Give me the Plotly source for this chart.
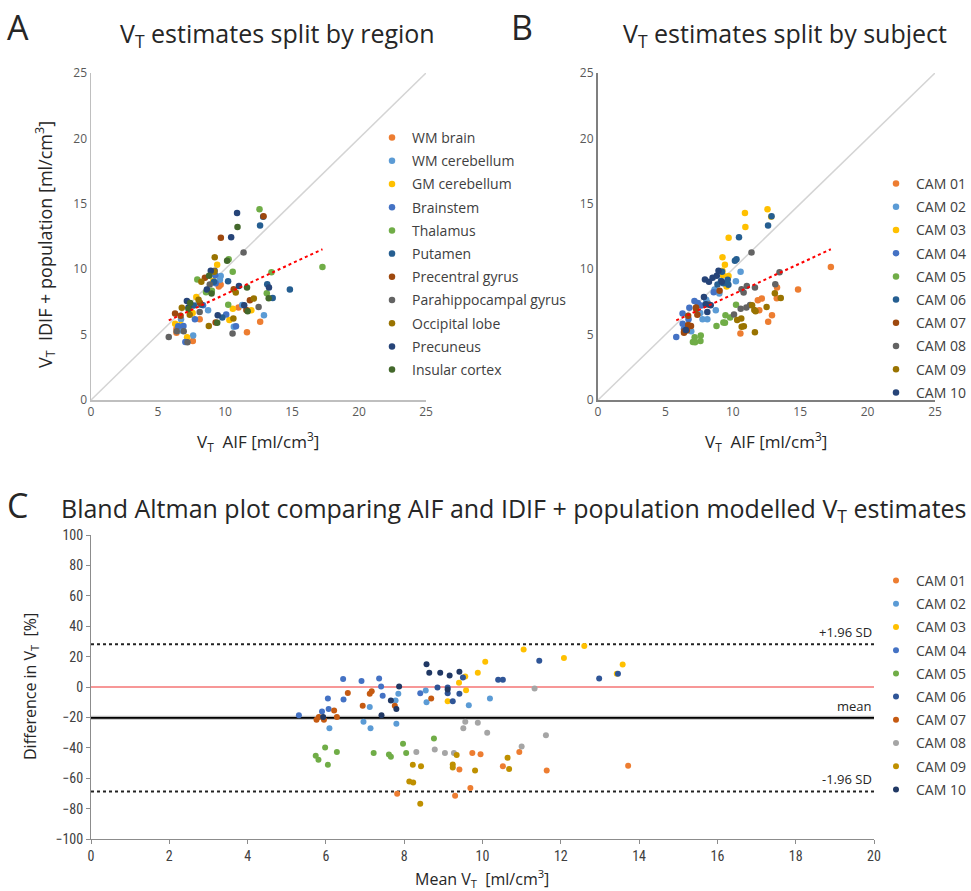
import numpy as np
import plotly.graph_objects as go

# ---------------- data ----------------
REGIONS = ["WM brain", "WM cerebellum", "GM cerebellum", "Brainstem", "Thalamus",
           "Putamen", "Precentral gyrus", "Parahippocampal gyrus", "Occipital lobe",
           "Precuneus", "Insular cortex"]
SUBJECTS = ["CAM 01", "CAM 02", "CAM 03", "CAM 04", "CAM 05",
            "CAM 06", "CAM 07", "CAM 08", "CAM 09", "CAM 10"]

# per subject: mean V_T [ml/cm3], difference [%], region index (into REGIONS)
CAM01_mean = [7.82, 9.41, 9.30, 9.69, 9.74, 9.95, 10.52, 10.94, 11.64, 13.72]
CAM01_diff = [-70.2, -54.3, -71.5, -66.4, -43.5, -44.2, -52.1, -42.8, -55.0, -51.8]
CAM01_reg = [7, 2, 0, 1, 6, 8, 10, 9, 5, 4]

CAM02_mean = [6.09, 6.96, 7.12, 7.14, 7.78, 7.80, 7.85, 8.55, 8.57, 9.65, 10.19]
CAM02_diff = [-27.2, -22.8, -13.1, -27.2, -8.9, -24.1, -4.5, -2.3, -10.0, -12.0, -7.6]
CAM02_reg = [7, 3, 2, 0, 6, 1, 8, 9, 10, 5, 4]

CAM03_mean = [9.11, 9.40, 9.56, 9.58, 9.88, 10.07, 11.05, 12.08, 12.60, 13.43, 13.58]
CAM03_diff = [-9.4, 2.8, 6.9, -2.1, 9.4, 16.6, 24.6, 19.0, 27.0, 8.7, 14.8]
CAM03_reg = [0, 3, 7, 1, 2, 8, 6, 10, 9, 5, 4]

CAM04_mean = [5.31, 5.90, 6.07, 6.05, 6.44, 6.45, 6.91, 7.36, 7.41, 7.45, 8.41]
CAM04_diff = [-18.6, -16.2, -14.4, -7.6, 5.2, -8.3, 3.9, 5.6, 0.3, -5.8, -4.1]
CAM04_reg = [7, 0, 3, 2, 6, 1, 8, 9, 10, 5, 4]

CAM05_mean = [5.98, 5.74, 5.81, 6.05, 6.28, 7.22, 7.61, 7.66, 7.97, 8.05, 8.76]
CAM05_diff = [-39.8, -45.3, -47.9, -51.2, -42.8, -43.5, -44.4, -45.9, -37.3, -43.5, -33.8]
CAM05_reg = [2, 3, 7, 0, 1, 8, 6, 10, 9, 5, 4]

CAM06_mean = [8.85, 9.11, 9.11, 9.24, 9.41, 9.50, 10.40, 10.52, 11.45, 12.98, 13.46]
CAM06_diff = [-0.3, -0.3, -4.1, -9.4, -4.5, 6.3, 4.7, 4.7, 17.3, 5.6, 8.7]
CAM06_reg = [7, 2, 3, 0, 1, 8, 10, 4, 9, 5, 6]

CAM07_mean = [5.76, 5.82, 5.95, 6.21, 6.28, 6.56, 6.94, 7.12, 7.17, 7.76, 8.69]
CAM07_diff = [-21.5, -19.7, -21.5, -15.5, -19.7, -3.9, -12.4, -4.5, -2.8, -12.4, -7.6]
CAM07_reg = [0, 7, 1, 2, 3, 6, 8, 10, 9, 5, 4]

CAM08_mean = [8.31, 8.78, 9.04, 9.27, 9.56, 9.51, 9.88, 10.12, 11.00, 11.33, 11.62]
CAM08_diff = [-42.8, -41.1, -43.5, -43.5, -22.8, -27.2, -23.5, -30.1, -39.1, -1.0, -31.8]
CAM08_reg = [3, 2, 0, 1, 6, 8, 9, 10, 5, 7, 4]

CAM09_mean = [8.22, 8.43, 8.13, 8.23, 8.41, 9.34, 9.24, 9.24, 9.81, 10.64, 10.68]
CAM09_diff = [-51.2, -52.1, -62.2, -62.9, -76.8, -44.8, -51.0, -53.0, -55.0, -46.6, -53.9]
CAM09_reg = [2, 8, 1, 3, 0, 9, 6, 10, 7, 4, 5]

CAM10_mean = [5.93, 7.42, 7.66, 7.80, 7.87, 8.57, 8.64, 8.92, 9.11, 9.16, 9.41]
CAM10_diff = [-19.7, -18.6, -8.9, -14.4, 0.3, 14.9, 9.4, 9.4, -1.6, 7.6, 10.0]
CAM10_reg = [0, 7, 1, 3, 2, 4, 8, 6, 5, 10, 9]

MEANS = [CAM01_mean, CAM02_mean, CAM03_mean, CAM04_mean, CAM05_mean,
         CAM06_mean, CAM07_mean, CAM08_mean, CAM09_mean, CAM10_mean]
DIFFS = [CAM01_diff, CAM02_diff, CAM03_diff, CAM04_diff, CAM05_diff,
         CAM06_diff, CAM07_diff, CAM08_diff, CAM09_diff, CAM10_diff]
REGS = [CAM01_reg, CAM02_reg, CAM03_reg, CAM04_reg, CAM05_reg,
        CAM06_reg, CAM07_reg, CAM08_reg, CAM09_reg, CAM10_reg]

REGION_COLORS = ["#ED7D31", "#5B9BD5", "#FFC000", "#4472C4", "#70AD47", "#255E91",
                 "#9E480E", "#636363", "#997300", "#264478", "#43682B"]
SUBJ_COLORS_B = ["#ED7D31", "#5B9BD5", "#FFC000", "#4472C4", "#70AD47", "#255E91",
                 "#9E480E", "#636363", "#997300", "#264478"]
SUBJ_COLORS_C = ["#ED7D31", "#5B9BD5", "#FFC000", "#4472C4", "#70AD47", "#2F5597",
                 "#C55A11", "#A5A5A5", "#BF9000", "#203864"]

# ---------------- derived values ----------------
aif = [[m * (1 - d / 200.0) for m, d in zip(ms, ds)] for ms, ds in zip(MEANS, DIFFS)]
idif = [[m * (1 + d / 200.0) for m, d in zip(ms, ds)] for ms, ds in zip(MEANS, DIFFS)]
all_aif = np.concatenate([np.array(a) for a in aif])
all_idif = np.concatenate([np.array(a) for a in idif])
all_diff = np.concatenate([np.array(a) for a in DIFFS])
slope, icpt = np.polyfit(all_aif, all_idif, 1)
tx = np.array([all_aif.min(), all_aif.max()])
bias = all_diff.mean()
sd = all_diff.std(ddof=1)
upper, lower = bias + 1.96 * sd, bias - 1.96 * sd

W, H = 971, 891
def px(x): return x / W
def py(y): return 1 - y / H

FONT = "'Open Sans', Lato, sans-serif"
NARROW = "'Liberation Sans Narrow', 'Roboto Condensed', 'Liberation Sans', sans-serif"

fig = go.Figure()

# ---------- Panel A ----------
fig.add_trace(go.Scatter(x=[0, 25], y=[0, 25], mode="lines", line=dict(color="#D4D4D4", width=1.5),
                         showlegend=False, hoverinfo="skip", xaxis="x", yaxis="y"))
for r, name in enumerate(REGIONS):
    xs, ys = [], []
    for s in range(len(SUBJECTS)):
        for k, rr in enumerate(REGS[s]):
            if rr == r:
                xs.append(aif[s][k]); ys.append(idif[s][k])
    fig.add_trace(go.Scatter(x=xs, y=ys, mode="markers", name=name, legend="legend",
                             legendgroup="A" + name,
                             marker=dict(color=REGION_COLORS[r], size=6.5, line=dict(width=0)),
                             xaxis="x", yaxis="y"))
fig.add_trace(go.Scatter(x=tx, y=slope * tx + icpt, mode="lines",
                         line=dict(color="#FF0000", width=2, dash="dot"),
                         showlegend=False, hoverinfo="skip", xaxis="x", yaxis="y"))

# ---------- Panel B ----------
fig.add_trace(go.Scatter(x=[0, 25], y=[0, 25], mode="lines", line=dict(color="#D4D4D4", width=1.5),
                         showlegend=False, hoverinfo="skip", xaxis="x2", yaxis="y2"))
for s, name in enumerate(SUBJECTS):
    fig.add_trace(go.Scatter(x=aif[s], y=idif[s], mode="markers", name=name, legend="legend2",
                             legendgroup="B" + name,
                             marker=dict(color=SUBJ_COLORS_B[s], size=6.5, line=dict(width=0)),
                             xaxis="x2", yaxis="y2"))
fig.add_trace(go.Scatter(x=tx, y=slope * tx + icpt, mode="lines",
                         line=dict(color="#FF0000", width=2, dash="dot"),
                         showlegend=False, hoverinfo="skip", xaxis="x2", yaxis="y2"))

# ---------- Panel C ----------
fig.add_trace(go.Scatter(x=[0, 20], y=[0, 0], mode="lines", line=dict(color="#F03030", width=1.2),
                         showlegend=False, hoverinfo="skip", xaxis="x3", yaxis="y3"))
fig.add_trace(go.Scatter(x=[0, 20], y=[bias, bias], mode="lines", line=dict(color="#BBBBBB", width=4),
                         showlegend=False, hoverinfo="skip", xaxis="x3", yaxis="y3"))
fig.add_trace(go.Scatter(x=[0, 20], y=[bias, bias], mode="lines", line=dict(color="#000000", width=1.8),
                         showlegend=False, hoverinfo="skip", xaxis="x3", yaxis="y3"))
for yv in (upper, lower):
    fig.add_trace(go.Scatter(x=[0, 20], y=[yv, yv], mode="lines",
                             line=dict(color="#222222", width=2, dash="dot"),
                             showlegend=False, hoverinfo="skip", xaxis="x3", yaxis="y3"))
for s, name in enumerate(SUBJECTS):
    fig.add_trace(go.Scatter(x=MEANS[s], y=DIFFS[s], mode="markers", name=name, legend="legend3",
                             legendgroup="C" + name,
                             marker=dict(color=SUBJ_COLORS_C[s], size=6, line=dict(width=0)),
                             xaxis="x3", yaxis="y3"))

tickA = dict(size=12, family=FONT, color="#595959")
axis_common = dict(showgrid=False, zeroline=False, showline=True, ticks="", fixedrange=True)
leg_common = dict(tracegroupgap=2, font=dict(size=14, family=FONT, color="#404040"),
                  bgcolor="rgba(0,0,0,0)", itemclick=False, itemdoubleclick=False)

fig.update_layout(
    width=W, height=H, margin=dict(l=0, r=0, t=0, b=0, autoexpand=False),
    paper_bgcolor="white", plot_bgcolor="white", showlegend=True,
    xaxis=dict(domain=[px(91), px(426)], range=[0, 25], dtick=5, anchor="y",
               linecolor="#BFBFBF", linewidth=1.5, tickfont=tickA, **axis_common),
    yaxis=dict(domain=[py(400), py(73)], range=[0, 25], dtick=5, anchor="x",
               linecolor="#BFBFBF", linewidth=1.5, tickfont=tickA, **axis_common),
    xaxis2=dict(domain=[px(598), px(935)], range=[0, 25], dtick=5, anchor="y2",
                linecolor="#7F7F7F", linewidth=2, tickfont=tickA, **axis_common),
    yaxis2=dict(domain=[py(400), py(73)], range=[0, 25], dtick=5, anchor="x2",
                linecolor="#7F7F7F", linewidth=2, tickfont=tickA, **axis_common),
    xaxis3=dict(domain=[px(91), px(874)], range=[0, 20], dtick=2, anchor="y3",
                showgrid=False, zeroline=False, showline=True, linecolor="#8C8C8C", linewidth=1,
                ticks="outside", ticklen=4, tickcolor="#8C8C8C", fixedrange=True,
                tickfont=dict(size=14, family=NARROW, color="#404040")),
    yaxis3=dict(domain=[py(839), py(535)], range=[-100, 100], dtick=20, anchor="x3",
                showgrid=False, zeroline=False, showline=True, linecolor="#8C8C8C", linewidth=1,
                ticks="outside", ticklen=4, tickcolor="#8C8C8C", fixedrange=True,
                tickfont=dict(size=14, family=NARROW, color="#404040")),
    legend=dict(x=px(372), xanchor="left", y=py(122), yanchor="top", **leg_common),
    legend2=dict(x=1, xanchor="right", y=py(168), yanchor="top", **leg_common),
    legend3=dict(x=1, xanchor="right", y=py(565), yanchor="top", **leg_common),
)

ann = []
def A(text, x, y, size, xanchor="center", yanchor="middle", angle=0, font=FONT, color="#262626"):
    ann.append(dict(text=text, x=px(x), y=py(y), xref="paper", yref="paper", showarrow=False,
                    xanchor=xanchor, yanchor=yanchor, textangle=angle,
                    font=dict(size=size, family=font, color=color)))

A("A", 5, 27, 34, xanchor="left")
A("B", 509, 27, 34, xanchor="left")
A("C", 5, 505, 34, xanchor="left")
A("V<sub>T</sub> estimates split by region", 277, 34, 25)
A("V<sub>T</sub> estimates split by subject", 785, 34, 25)
A("Bland Altman plot comparing AIF and IDIF + population modelled V<sub>T</sub> estimates", 514, 510, 25)
A("V<sub>T</sub>  AIF [ml/cm<sup>3</sup>]", 258, 442, 17)
A("V<sub>T</sub>  AIF [ml/cm<sup>3</sup>]", 766, 442, 17)
A("V<sub>T</sub>  IDIF + population [ml/cm<sup>3</sup>]", 45, 245, 18, angle=-90)
A("Mean V<sub>T</sub>  [ml/cm<sup>3</sup>]", 482, 878, 16)
A("Difference in V<sub>T</sub>  [%]", 30, 687, 16, angle=-90)
# Bland-Altman line labels (positioned on data)
for txt, yv in (("+1.96 SD", upper), ("mean", bias), ("-1.96 SD", lower)):
    ann.append(dict(text=txt, x=20, y=yv, xref="x3", yref="y3", showarrow=False,
                    xanchor="right", yanchor="bottom", yshift=1,
                    font=dict(size=13, family=FONT, color="#262626")))
fig.update_layout(annotations=ann)

fig.write_html("out.html", config={"displayModeBar": False, "staticPlot": True},
               post_script="document.body.style.margin='0px';")
